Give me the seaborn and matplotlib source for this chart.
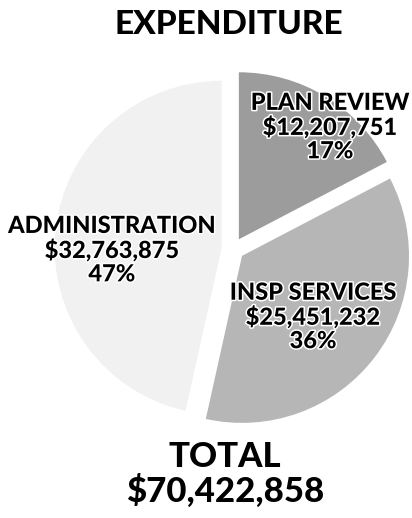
import matplotlib
matplotlib.use("Agg")
import matplotlib.pyplot as plt
import matplotlib.patheffects as pe
import seaborn as sns

# Expenditure by division
categories = ["PLAN REVIEW", "INSP SERVICES", "ADMINISTRATION"]
amounts = [12207751, 25451232, 32763875]
slice_colors = ["#9c9c9c", "#b6b6b6", "#f1f1f1"]
title_text = "EXPENDITURE"
total_label = "TOTAL"

sns.set_theme(style="white")
plt.rcParams["font.family"] = ["Lato", "DejaVu Sans"]

fig = plt.figure(figsize=(4.12, 5.18), dpi=100)
ax = fig.add_axes([0, 0, 1, 1])

total = sum(amounts)
ax.pie(amounts, colors=slice_colors, startangle=90, counterclock=False,
       explode=[0.068] * len(amounts), radius=1.0, center=(0, 0),
       wedgeprops=dict(linewidth=0), frame=False)
ax.set_xlim(-1.395, 1.072)
ax.set_ylim(-1.611, 1.491)
ax.set_aspect("auto")
ax.axis("off")

halo = [pe.withStroke(linewidth=2.2, foreground="white")]
label_pos = [(0.581, 0.733), (0.479, -0.404), (-0.725, -0.004)]
for name, amt, (x, y) in zip(categories, amounts, label_pos):
    pct = round(100 * amt / total)
    ax.text(x, y, f"{name}\n${amt:,}\n{pct}%", ha="center", va="center",
            fontsize=17, fontweight="black", color="black", linespacing=1.02,
            path_effects=halo)

fig.text(0.556, 0.953, title_text, ha="center", va="center",
         fontsize=24, fontweight="black", color="black")
fig.text(0.546, 0.118, total_label, ha="center", va="center",
         fontsize=25, fontweight="black", color="black")
fig.text(0.546, 0.052, f"${total:,}", ha="center", va="center",
         fontsize=25, fontweight="black", color="black")

fig.savefig("out.png", dpi=100, facecolor="white")
